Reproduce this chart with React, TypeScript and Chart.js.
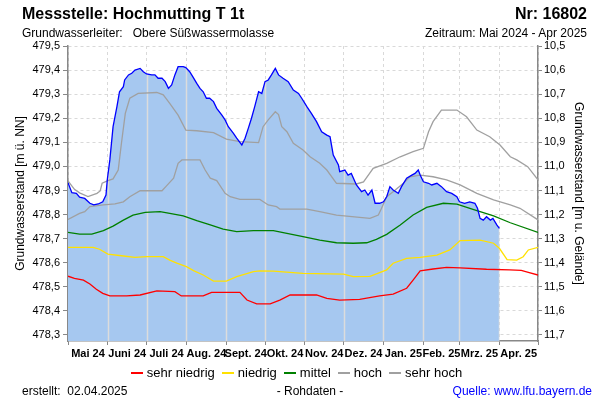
import React, { useEffect, useRef } from 'react';
import { Chart, registerables } from 'chart.js';

Chart.register(...registerables);

const FONT = "'Liberation Sans', Arial, sans-serif";

const monthLabels = ['Mai 24', 'Juni 24', 'Juli 24', 'Aug. 24', 'Sept. 24', 'Okt. 24', 'Nov. 24', 'Dez. 24', 'Jan. 25', 'Feb. 25', 'Mrz. 25', 'Apr. 25'];
const monthStartDays = [0, 31, 61, 92, 123, 153, 184, 214, 245, 276, 304, 335, 365];

const yMin = 478.275;
const yMax = 479.5;
const groundLevel = 490.0;
const leftTicks = [478.3, 478.4, 478.5, 478.6, 478.7, 478.8, 478.9, 479.0, 479.1, 479.2, 479.3, 479.4, 479.5];
const rightTicks = [10.5, 10.6, 10.7, 10.8, 10.9, 11.0, 11.1, 11.2, 11.3, 11.4, 11.5, 11.6, 11.7];

// Messwerte (Tag seit 1. Mai 2024, m ü. NN)
const measDays = [
  0, 3, 6.5, 9, 13, 17, 20, 23.5, 27, 29.5,
  30.5, 32.5, 35, 38, 40, 43, 44, 47, 49.5, 52,
  56, 58.5, 61, 65, 67.5, 70, 73, 75.5, 78, 80.5,
  83, 85.5, 89.5, 91.5, 94.5, 97, 100, 102.5, 105, 107.5,
  110, 113, 115.5, 119.5, 122, 124.5, 128.5, 131, 135, 137.5,
  140, 142.5, 145, 148, 150.5, 153, 155.5, 158, 161, 163.5,
  167, 171, 175, 179, 181.5, 185.5, 189, 193, 197, 201,
  203.5, 206, 210, 211, 215, 217.5, 220, 224, 228, 230.5,
  233, 236, 238.5, 242, 245, 247.5, 250, 252.5, 256.5, 259,
  263, 267, 269.5, 272, 273.5, 276, 280, 282.5, 286.5, 290,
  294, 298, 302, 304, 308, 312, 316, 318, 320, 322.5,
  325, 328, 330, 333, 335,
];
const measValues = [
  478.932, 478.891, 478.888, 478.872, 478.867, 478.847, 478.840, 478.844, 478.853, 478.881,
  478.944, 479.027, 479.165, 479.248, 479.310, 479.331, 479.359, 479.380, 479.387, 479.400,
  479.407, 479.393, 479.384, 479.380, 479.380, 479.366, 479.366, 479.352, 479.324, 479.338,
  479.380, 479.414, 479.414, 479.410, 479.393, 479.372, 479.345, 479.324, 479.310, 479.283,
  479.283, 479.269, 479.241, 479.213, 479.193, 479.165, 479.137, 479.117, 479.089, 479.117,
  479.158, 479.200, 479.248, 479.310, 479.303, 479.352, 479.359, 479.380, 479.407, 479.380,
  479.366, 479.352, 479.317, 479.303, 479.283, 479.248, 479.220, 479.186, 479.144, 479.130,
  479.123, 479.047, 479.006, 478.978, 478.985, 478.964, 478.971, 478.923, 478.895, 478.902,
  478.881, 478.902, 478.847, 478.847, 478.853, 478.874, 478.916, 478.902, 478.888, 478.916,
  478.951, 478.964, 478.971, 478.985, 478.964, 478.936, 478.930, 478.923, 478.930, 478.916,
  478.895, 478.888, 478.874, 478.853, 478.847, 478.853, 478.847, 478.826, 478.784, 478.777,
  478.791, 478.777, 478.784, 478.757, 478.743,
];

const sehrNiedrigDays = [0, 5, 12, 17, 22, 27, 32.5, 45.5, 56, 69, 83, 88, 105, 111.5, 133.5, 139, 146.5, 157, 164.5, 172.5, 193, 201, 211, 226.5, 242, 252.5, 263, 268, 273.5, 283.5, 294, 304.5, 325, 343, 352, 357.5, 365];
const sehrNiedrigValues = [478.544, 478.535, 478.528, 478.512, 478.490, 478.473, 478.462, 478.462, 478.466, 478.483, 478.480, 478.462, 478.462, 478.477, 478.477, 478.445, 478.429, 478.429, 478.445, 478.466, 478.466, 478.452, 478.445, 478.448, 478.462, 478.470, 478.494, 478.528, 478.566, 478.574, 478.581, 478.579, 478.573, 478.570, 478.568, 478.560, 478.549];

const niedrigDays = [0, 19.5, 24.5, 31, 41.5, 52, 61, 74, 79, 84.5, 92, 97.5, 105, 113, 123, 131, 144, 149, 159.5, 182.5, 214, 221.5, 234.5, 247.5, 252.5, 263, 273.5, 286.5, 296.5, 304.5, 320, 330.5, 335, 341, 348.5, 353.5, 357.5, 365];
const niedrigValues = [478.664, 478.664, 478.656, 478.636, 478.629, 478.622, 478.625, 478.625, 478.611, 478.598, 478.584, 478.567, 478.549, 478.524, 478.524, 478.542, 478.563, 478.566, 478.565, 478.556, 478.553, 478.542, 478.543, 478.570, 478.598, 478.618, 478.622, 478.632, 478.653, 478.692, 478.694, 478.681, 478.660, 478.613, 478.611, 478.625, 478.653, 478.664];

const mittelDays = [0, 9, 18.5, 27.5, 35, 43, 50.5, 60, 71.5, 79, 89.5, 100, 110.5, 120.5, 131, 144, 159.5, 170, 182.5, 195.5, 208.5, 221.5, 232, 239.5, 247.5, 258, 268, 278.5, 291.5, 302, 314.5, 330.5, 343.5, 365];
const mittelValues = [478.726, 478.719, 478.719, 478.733, 478.752, 478.777, 478.798, 478.809, 478.812, 478.805, 478.795, 478.775, 478.757, 478.740, 478.729, 478.733, 478.733, 478.722, 478.708, 478.694, 478.683, 478.681, 478.683, 478.697, 478.718, 478.757, 478.798, 478.830, 478.847, 478.843, 478.822, 478.795, 478.766, 478.726];

const hochDays = [0, 9, 13, 17, 27.5, 36.5, 43, 48, 56, 73, 76.5, 82, 85.5, 88.5, 102.5, 106.5, 110.5, 115.5, 122, 126, 133.5, 149, 155.5, 162, 164.5, 185.5, 195.5, 208.5, 234.5, 241, 243.5, 247.5, 252.5, 260.5, 265.5, 273.5, 283.5, 294, 304.5, 317.5, 330.5, 343.5, 351, 365];
const hochValues = [478.780, 478.805, 478.812, 478.833, 478.840, 478.844, 478.853, 478.874, 478.899, 478.899, 478.919, 478.951, 479.013, 479.027, 479.027, 478.985, 478.951, 478.941, 478.888, 478.874, 478.863, 478.863, 478.840, 478.833, 478.823, 478.823, 478.812, 478.798, 478.784, 478.798, 478.826, 478.874, 478.895, 478.930, 478.957, 478.964, 478.957, 478.944, 478.923, 478.888, 478.861, 478.840, 478.826, 478.778];

const sehrHochDays = [0, 5, 9, 15.5, 22.5, 25, 26.5, 31, 35, 39, 41.5, 44.5, 48, 54.5, 69, 74, 79, 85.5, 91.5, 100, 113, 123, 133.5, 148, 151.5, 155.5, 161, 163.5, 166, 170, 175, 182.5, 188, 195.5, 201, 208.5, 224, 229.5, 237, 247.5, 258, 268, 276, 280, 283.5, 290, 302, 309.5, 317.5, 327.5, 335.5, 343.5, 348.5, 357, 365];
const sehrHochValues = [478.940, 478.905, 478.890, 478.875, 478.888, 478.898, 478.930, 478.941, 478.948, 478.985, 479.096, 479.220, 479.283, 479.303, 479.307, 479.297, 479.262, 479.213, 479.151, 479.148, 479.140, 479.113, 479.103, 479.099, 479.165, 479.193, 479.227, 479.215, 479.165, 479.144, 479.096, 479.068, 479.040, 479.013, 478.985, 478.930, 478.927, 478.936, 478.992, 479.013, 479.040, 479.061, 479.075, 479.144, 479.186, 479.234, 479.234, 479.206, 479.151, 479.123, 479.089, 479.040, 479.027, 478.999, 478.944];

const legendItems = [
  { label: 'sehr niedrig', color: '#ff0000' },
  { label: 'niedrig', color: '#ffe100' },
  { label: 'mittel', color: '#008000' },
  { label: 'hoch', color: '#a0a0a0' },
  { label: 'sehr hoch', color: '#a0a0a0' },
];

const pts = (days: number[], vals: number[]) => days.map((d, i) => ({ x: d, y: vals[i] }));
const fmt = (v: number) => Number(v).toFixed(1).replace('.', ',');

const monthLinesPlugin = {
  id: 'monthLinesInFill',
  afterDatasetDraw(chart: any, args: any) {
    if (args.index !== 0) return;
    const { ctx, chartArea } = chart;
    const x = chart.scales.x;
    const y = chart.scales.y;
    ctx.save();
    ctx.beginPath();
    measDays.forEach((d, i) => {
      const px = x.getPixelForValue(d);
      const py = y.getPixelForValue(measValues[i]);
      if (i === 0) ctx.moveTo(px, py);
      else ctx.lineTo(px, py);
    });
    ctx.lineTo(x.getPixelForValue(measDays[measDays.length - 1]), chartArea.bottom);
    ctx.lineTo(x.getPixelForValue(measDays[0]), chartArea.bottom);
    ctx.closePath();
    ctx.clip();
    ctx.strokeStyle = '#dcdcdc';
    ctx.lineWidth = 1.5;
    monthStartDays.slice(1, -1).forEach((d) => {
      const px = Math.round(x.getPixelForValue(d)) + 0.5;
      ctx.beginPath();
      ctx.moveTo(px, chartArea.top);
      ctx.lineTo(px, chartArea.bottom);
      ctx.stroke();
    });
    ctx.restore();
  },
};

export default function App() {
  const ref = useRef<HTMLCanvasElement>(null);

  useEffect(() => {
    if (!ref.current) return;
    const lineDs = (label: string, days: number[], vals: number[], color: string, order: number) => ({
      label,
      data: pts(days, vals),
      borderColor: color,
      borderWidth: 1.3,
      pointRadius: 0,
      fill: false,
      tension: 0,
      order,
    });
    const chart = new Chart(ref.current, {
      type: 'line',
      data: {
        datasets: [
          {
            label: 'fill',
            data: pts(measDays, measValues),
            borderWidth: 0,
            borderColor: 'rgba(0,0,0,0)',
            backgroundColor: '#a6c8f0',
            pointRadius: 0,
            fill: 'start',
            order: 10,
          },
          lineDs('sehr niedrig', sehrNiedrigDays, sehrNiedrigValues, '#ff0000', 5),
          lineDs('niedrig', niedrigDays, niedrigValues, '#ffe100', 5),
          lineDs('mittel', mittelDays, mittelValues, '#008000', 5),
          lineDs('hoch', hochDays, hochValues, '#a0a0a0', 5),
          lineDs('sehr hoch', sehrHochDays, sehrHochValues, '#a0a0a0', 5),
          lineDs('Messwerte', measDays, measValues, '#0000ff', 0),
        ] as any,
      },
      options: {
        animation: false,
        responsive: false,
        devicePixelRatio: 1,
        layout: { padding: { top: 46, left: 0, right: 0, bottom: 0 } },
        plugins: { legend: { display: false }, tooltip: { enabled: false } },
        font: { family: FONT },
        scales: {
          x: {
            type: 'linear',
            position: 'bottom',
            min: 0,
            max: 365,
            afterBuildTicks: (s: any) => {
              const t: any[] = [];
              monthStartDays.forEach((d, i) => {
                t.push({ value: d });
                if (i < monthStartDays.length - 1) t.push({ value: (d + monthStartDays[i + 1]) / 2 });
              });
              s.ticks = t;
            },
            afterFit: (s: any) => { s.height = 59; },
            ticks: {
              autoSkip: false,
              maxRotation: 0,
              minRotation: 0,
              padding: 2,
              color: '#000',
              font: { family: FONT, size: 11, weight: 'bold' },
              callback: (_v: any, i: number) => (i % 2 === 1 ? monthLabels[(i - 1) / 2] : ''),
            },
            grid: {
              color: (c: any) => (c.index % 2 === 0 ? '#d9d9d9' : 'rgba(0,0,0,0)'),
              tickColor: (c: any) => (c.index % 2 === 0 ? '#888' : 'rgba(0,0,0,0)'),
              tickLength: 4,
              lineWidth: 1,
            },
            border: { color: '#888', dash: [3, 3], width: 1.5 },
          },
          y: {
            type: 'linear',
            position: 'left',
            min: yMin,
            max: yMax,
            afterBuildTicks: (s: any) => { s.ticks = leftTicks.map((v) => ({ value: v })); },
            afterFit: (s: any) => { s.width = 68; },
            ticks: { color: '#000', padding: 3, font: { family: FONT, size: 11 }, callback: (v: any) => fmt(v) },
            grid: { color: '#d9d9d9', tickColor: '#888', tickLength: 5, lineWidth: 1 },
            border: { color: '#888', dash: [3, 3], width: 1.5 },
            title: {
              display: true,
              text: 'Grundwasserstand [m ü. NN]',
              color: '#000',
              font: { family: FONT, size: 12 },
              padding: { top: 13, bottom: 0 },
            },
          },
          y2: {
            type: 'linear',
            position: 'right',
            reverse: true,
            min: groundLevel - yMax,
            max: groundLevel - yMin,
            afterBuildTicks: (s: any) => { s.ticks = rightTicks.map((v) => ({ value: v })); },
            afterFit: (s: any) => { s.width = 62; },
            ticks: { color: '#000', padding: 2, font: { family: FONT, size: 11 }, callback: (v: any) => fmt(v) },
            grid: { drawOnChartArea: false, tickColor: '#888', tickLength: 4 },
            border: { color: '#888', width: 1.5 },
            title: {
              display: true,
              text: 'Grundwasserstand [m u. Gelände]',
              color: '#000',
              font: { family: FONT, size: 12 },
              padding: { top: 14, bottom: 0 },
            },
          },
        },
      } as any,
      plugins: [monthLinesPlugin],
    });
    return () => chart.destroy();
  }, []);

  const abs = (s: React.CSSProperties): React.CSSProperties => ({ position: 'absolute', whiteSpace: 'nowrap', ...s });

  return (
    <div style={{ position: 'fixed', top: 0, left: 0, width: 600, height: 400, background: '#fff', fontFamily: FONT, color: '#000', overflow: 'hidden' }}>
      <canvas ref={ref} width={600} height={400} style={{ position: 'absolute', left: 0, top: 0, width: 600, height: 400 }} />
      <div style={abs({ left: 22, top: 4, fontSize: 16, fontWeight: 'bold', lineHeight: '20px' })}>Messstelle: Hochmutting T 1t</div>
      <div style={abs({ right: 13, top: 4, fontSize: 16, fontWeight: 'bold', lineHeight: '20px' })}>Nr: 16802</div>
      <div style={abs({ left: 22, top: 25, fontSize: 12, lineHeight: '16px' })}>Grundwasserleiter:&nbsp;&nbsp; Obere Süßwassermolasse</div>
      <div style={abs({ right: 13, top: 25, fontSize: 12, lineHeight: '16px' })}>Zeitraum: Mai 2024 - Apr 2025</div>
      <div style={abs({ left: 0, width: 600, top: 365, display: 'flex', justifyContent: 'center', alignItems: 'center', fontSize: 13, lineHeight: '16px' })}>
        {legendItems.map((it) => (
          <span key={it.label} style={{ display: 'inline-flex', alignItems: 'center', marginRight: 7 }}>
            <span style={{ display: 'inline-block', width: 12, height: 2, background: it.color, marginRight: 4 }} />
            <span>{it.label}</span>
          </span>
        ))}
      </div>
      <div style={abs({ left: 22, top: 383, fontSize: 12, lineHeight: '16px' })}>erstellt:&nbsp; 02.04.2025</div>
      <div style={abs({ left: 0, width: 620, top: 383, fontSize: 12, lineHeight: '16px', textAlign: 'center' })}>- Rohdaten -</div>
      <div style={abs({ right: 8, top: 383, fontSize: 12, lineHeight: '16px', color: '#0000ff' })}>Quelle: www.lfu.bayern.de</div>
    </div>
  );
}
